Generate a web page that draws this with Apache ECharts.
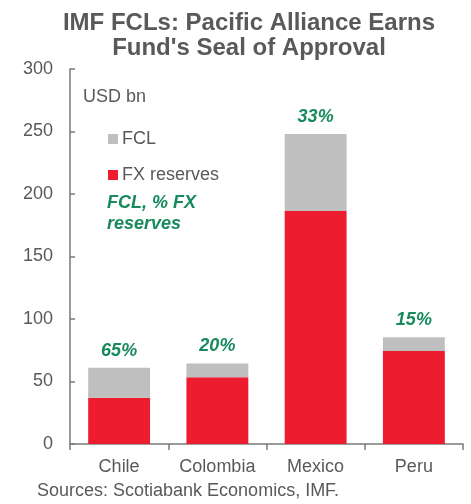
<!DOCTYPE html>
<html>
<head>
<meta charset="utf-8">
<script src="https://cdn.jsdelivr.net/npm/echarts@6/dist/echarts.min.js"></script>
<style>
  html, body { margin: 0; padding: 0; background: #fff; }
  #chart { width: 471px; height: 504px; }
</style>
</head>
<body>
<div id="chart"></div>
<script>
// Country groups on the x axis
const countries = ['Chile', 'Colombia', 'Mexico', 'Peru'];
// FX reserves, USD bn
const fxReserves = [37, 53.5, 186.5, 74.5];
// IMF Flexible Credit Line, USD bn
const fclAmounts = [24, 11, 61.5, 11];
// FCL as a share of FX reserves
const fclShareLabels = ['65%', '20%', '33%', '15%'];
// Value axis ticks
const yTicks = [0, 50, 100, 150, 200, 250, 300];

const grey = '#595959';
const green = '#178a5e';
const font = 'Liberation Sans, Arial, sans-serif';

const chart = echarts.init(document.getElementById('chart'), null, { renderer: 'canvas' });

chart.setOption({
  animation: false,
  backgroundColor: '#ffffff',
  title: {
    text: 'IMF FCLs: Pacific Alliance Earns\nFund\'s Seal of Approval',
    left: 244,
    top: 6,
    textAlign: 'center',
    textStyle: {
      fontFamily: font,
      fontSize: 24,
      fontWeight: 'bold',
      color: grey,
      lineHeight: 25
    }
  },
  legend: {
    orient: 'vertical',
    left: 103,
    top: 125,
    itemWidth: 10,
    itemHeight: 10,
    itemGap: 18,
    icon: 'rect',
    data: ['FCL', 'FX reserves'],
    textStyle: { fontFamily: font, fontSize: 18, lineHeight: 18, color: grey, padding: [0, 0, 0, -1] }
  },
  grid: { left: 70, right: 8, top: 69, bottom: 60 },
  xAxis: {
    type: 'category',
    data: countries,
    axisLine: { lineStyle: { color: '#7a7a7a', width: 1.5 } },
    axisTick: { show: true, inside: false, length: 6, lineStyle: { color: '#7a7a7a', width: 1.5 } },
    axisLabel: { interval: 0, hideOverlap: false, fontFamily: font, fontSize: 18, color: grey, margin: 14 }
  },
  yAxis: {
    type: 'value',
    min: yTicks[0],
    max: yTicks[yTicks.length - 1],
    interval: yTicks[1] - yTicks[0],
    splitLine: { show: false },
    axisLine: { show: true, lineStyle: { color: '#7a7a7a', width: 1.5 } },
    axisTick: { show: true, inside: true, length: 5, lineStyle: { color: '#7a7a7a', width: 1.5 } },
    axisLabel: { fontFamily: font, fontSize: 18, color: grey, margin: 17 }
  },
  graphic: [
    {
      type: 'text', left: 83, top: 88,
      style: { text: 'USD bn', fontFamily: font, fontSize: 18, fill: grey }
    },
    {
      type: 'text', left: 107, top: 193,
      style: {
        text: 'FCL, % FX\nreserves', fontFamily: font, fontSize: 18,
        fontWeight: 'bold', fontStyle: 'italic', fill: green, lineHeight: 21
      }
    },
    {
      type: 'text', left: 37, top: 482,
      style: { text: 'Sources: Scotiabank Economics, IMF.', fontFamily: font, fontSize: 18, fill: grey }
    }
  ],
  series: [
    {
      name: 'FX reserves',
      type: 'bar',
      stack: 'total',
      data: fxReserves,
      barWidth: '63%',
      itemStyle: { color: '#ed1c2e' }
    },
    {
      name: 'FCL',
      type: 'bar',
      stack: 'total',
      data: fclAmounts,
      barWidth: '63%',
      itemStyle: { color: '#bfbfbf' },
      label: {
        show: true,
        position: 'top',
        distance: 8,
        formatter: p => fclShareLabels[p.dataIndex],
        fontFamily: font,
        fontSize: 18,
        fontWeight: 'bold',
        fontStyle: 'italic',
        color: green
      }
    }
  ]
});
</script>
</body>
</html>
